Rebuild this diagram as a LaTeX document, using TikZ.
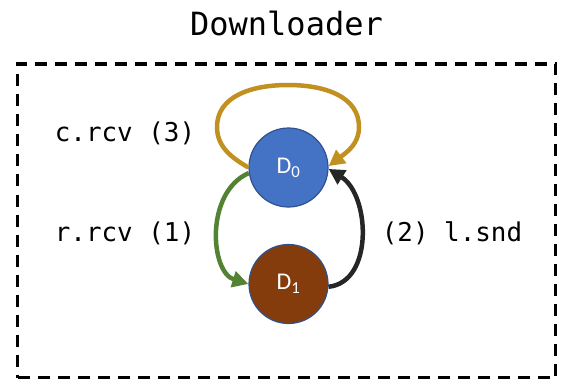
\documentclass[tikz,border=0pt]{standalone}
\usepackage{fontspec}
\setmainfont{Carlito}
\newfontfamily\monofont{DejaVu Sans Mono}
\usetikzlibrary{arrows.meta}
\definecolor{stateblue}{HTML}{4472C4}
\definecolor{stateedge}{HTML}{2F528F}
\definecolor{statebrown}{HTML}{843C0C}
\definecolor{loopgold}{HTML}{C09020}
\definecolor{recvgreen}{HTML}{548235}
\definecolor{senddark}{HTML}{262626}
\tikzset{
  state/.style={circle, draw=stateedge, line width=1.2pt, minimum size=79pt,
    inner sep=0pt, text=white, font=\fontsize{24}{28}\selectfont},
  msg/.style={font=\monofont\fontsize{25.9}{30}\selectfont, inner sep=0pt},
  trans/.style={line width=4.5pt, -{Triangle[length=16pt,width=16pt]}},
  frame/.style={draw=black, line width=3.5pt, dash pattern=on 12pt off 8pt,
    inner sep=0pt, minimum width=538pt, minimum height=313.5pt}
}
\begin{document}
\begin{tikzpicture}[x=1pt,y=-1pt]
  \useasboundingbox (0,0) rectangle (562,385);
  % enclosing dashed frame and its title
  \node[frame] (box) at (286.5,220.75) {};
  \node[font=\monofont\fontsize{32}{38}\selectfont, inner sep=0pt] (title) at (286.5,23) {Downloader};
  % the two states
  \node[state, fill=stateblue] (D0) at (288.5,167.5) {D\textsubscript{0}};
  \node[state, fill=statebrown] (D1) at (288.5,284) {D\textsubscript{1}};
  % self loop over D0
  \draw[trans, draw=loopgold]
    (D0.180) .. controls (232,158) and (217,147) .. (217,127)
             .. controls (217,97) and (250,85) .. (288,85)
             .. controls (326,85) and (359,97) .. (359,127)
             .. controls (359,144) and (347,152) .. (D0.2);
  % transitions between the states
  \draw[trans, draw=recvgreen]
    (D0.188) .. controls (205,192) and (210,272) .. (D1.180);
  \draw[trans, draw=senddark]
    (D1.356) .. controls (374,282) and (370,195) .. (D0.358);
  % transition labels
  \node[msg] (lc) at (125,133) {c.rcv (3)};
  \node[msg] (lr) at (125,233) {r.rcv (1)};
  \node[msg] (ll) at (452,233) {(2) l.snd};
\end{tikzpicture}
\end{document}
